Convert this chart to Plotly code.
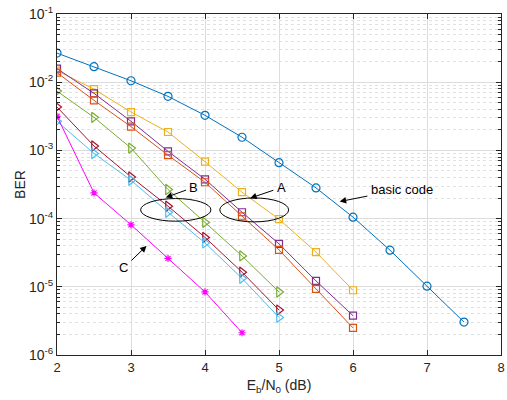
import plotly.graph_objects as go
import numpy as np

# ---------------- data ----------------
ebn0_basic = [2, 2.5, 3, 3.5, 4, 4.5, 5, 5.5, 6, 6.5, 7, 7.5]
ber_basic = [2.67e-2, 1.69e-2, 1.05e-2, 6.2e-3, 3.27e-3, 1.56e-3, 6.6e-4, 2.82e-4, 1.05e-4, 3.44e-5, 1.02e-5, 3.04e-6]

ebn0_sq = [2, 2.5, 3, 3.5, 4, 4.5, 5, 5.5, 6]
ber_yellow = [1.48e-2, 7.9e-3, 3.65e-3, 1.86e-3, 6.85e-4, 2.44e-4, 9.8e-5, 3.23e-5, 8.9e-6]
ber_purple = [1.58e-2, 6.86e-3, 2.67e-3, 9.7e-4, 3.77e-4, 1.24e-4, 4.26e-5, 1.22e-5, 3.77e-6]
ber_orange = [1.38e-2, 5.42e-3, 2.23e-3, 8.5e-4, 3.41e-4, 1.08e-4, 3.48e-5, 9.3e-6, 2.5e-6]

ebn0_tri = [2, 2.5, 3, 3.5, 4, 4.5, 5]
ber_green = [7.4e-3, 3.05e-3, 1.08e-3, 2.67e-4, 8.8e-5, 2.84e-5, 8.4e-6]
ber_darkred = [4.32e-3, 1.16e-3, 4.08e-4, 1.52e-4, 5.3e-5, 1.64e-5, 4.56e-6]
ber_lightblue = [2.67e-3, 9.0e-4, 3.65e-4, 1.24e-4, 4.4e-5, 1.33e-5, 3.56e-6]

ebn0_c = [2, 2.5, 3, 3.5, 4, 4.5]
ber_c = [3.16e-3, 2.38e-4, 8.1e-5, 2.61e-5, 8.4e-6, 2.12e-6]

ytick_vals = [1e-6, 1e-5, 1e-4, 1e-3, 1e-2, 1e-1]
ytick_text = ["10<sup>-6</sup>", "10<sup>-5</sup>", "10<sup>-4</sup>", "10<sup>-3</sup>", "10<sup>-2</sup>", "10<sup>-1</sup>"]
xtick_vals = [2, 3, 4, 5, 6, 7, 8]

# ---------------- figure ----------------
series = [
    (ebn0_basic, ber_basic, "#0072BD", "circle-open", 8),
    (ebn0_sq, ber_yellow, "#EDB120", "square-open", 7),
    (ebn0_sq, ber_purple, "#7E2F8E", "square-open", 7),
    (ebn0_sq, ber_orange, "#D95319", "square-open", 7),
    (ebn0_tri, ber_green, "#77AC30", "triangle-right-open", 9),
    (ebn0_tri, ber_darkred, "#A2142F", "triangle-right-open", 9),
    (ebn0_tri, ber_lightblue, "#4DBEEE", "triangle-right-open", 9),
    (ebn0_c, ber_c, "#FF00FF", "asterisk-open", 6),
]

fig = go.Figure()
for x, y, c, sym, sz in series:
    fig.add_trace(go.Scatter(
        x=x, y=y, mode="lines+markers",
        line=dict(color=c, width=1),
        marker=dict(symbol=sym, size=sz, color=c, line=dict(color=c, width=1.2)),
        showlegend=False,
    ))

txt = "#262626"
# ellipses (shapes use data values on log axes)
fig.add_shape(type="circle", xref="x", yref="y", x0=3.13, x1=4.08,
              y0=10 ** -4.038, y1=10 ** -3.706, line=dict(color="black", width=1))
fig.add_shape(type="circle", xref="x", yref="y", x0=4.2, x1=5.13,
              y0=10 ** -4.048, y1=10 ** -3.697, line=dict(color="black", width=1))

# arrows with labels (annotation y on log axes are log10 values)
arrows = [
    ("B", 3.47, -3.69, 3.85, -3.54),
    ("A", 4.61, -3.70, 5.03, -3.545),
    ("C", 3.21, -4.40, 2.905, -4.72),
    ("basic code", 5.82, -3.75, 6.66, -3.57),
]
for t, hx, hy, tx, ty in arrows:
    fig.add_annotation(
        x=hx, y=hy, ax=tx, ay=ty, axref="x", ayref="y", xref="x", yref="y",
        text=t, showarrow=True, arrowhead=2, arrowsize=1.3, arrowwidth=1,
        arrowcolor="black", startstandoff=2,
        font=dict(family="Liberation Sans, Arial", size=13, color="black"),
    )

grid_major = "#dcdcdc"
grid_minor = "#e0e0e0"
fig.update_layout(
    width=507, height=400,
    margin=dict(l=57, r=6, t=14, b=45),
    paper_bgcolor="white", plot_bgcolor="white",
    font=dict(family="Liberation Sans, Arial", size=13, color=txt),
    xaxis=dict(
        range=[2, 8], tickvals=xtick_vals, showgrid=True, gridcolor=grid_major,
        gridwidth=1, zeroline=False, showline=True, linecolor=txt, linewidth=1,
        mirror="ticks", ticks="inside", ticklen=5, tickcolor=txt,
        title=dict(text="E<sub>b</sub>/N<sub>0</sub> (dB)", font=dict(size=14), standoff=6),
        tickfont=dict(size=13), automargin=False, ticklabeloverflow="allow",
    ),
    yaxis=dict(
        type="log", range=[-6, -1], tickvals=ytick_vals, ticktext=ytick_text,
        showgrid=True, gridcolor=grid_major, gridwidth=1, zeroline=False,
        showline=True, linecolor=txt, linewidth=1, mirror="ticks",
        ticks="inside", ticklen=5, tickcolor=txt,
        minor=dict(dtick="D1", showgrid=True, gridcolor=grid_minor, griddash="dot",
                   ticks="inside", ticklen=3, tickcolor=txt),
        title=dict(text="BER", font=dict(size=14), standoff=0),
        tickfont=dict(size=14), automargin=False, ticklabeloverflow="allow",
    ),
)

fig.write_html("out.html", post_script="document.body.style.margin='0';",
               config={"displayModeBar": False})
